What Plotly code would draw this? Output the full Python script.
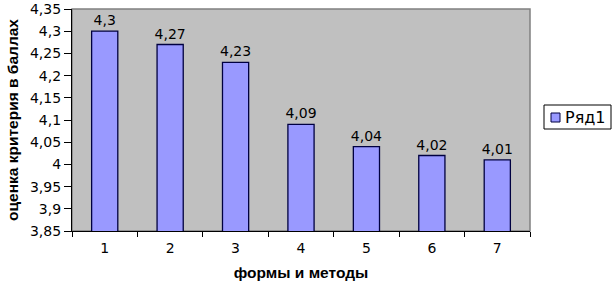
import plotly.graph_objects as go

categories = ["1", "2", "3", "4", "5", "6", "7"]
values = [4.30, 4.27, 4.23, 4.09, 4.04, 4.02, 4.01]
value_labels = ["4,3", "4,27", "4,23", "4,09", "4,04", "4,02", "4,01"]
y_ticks = [3.85, 3.90, 3.95, 4.00, 4.05, 4.10, 4.15, 4.20, 4.25, 4.30, 4.35]
y_tick_labels = ["3,85", "3,9", "3,95", "4", "4,05", "4,1", "4,15", "4,2", "4,25", "4,3", "4,35"]
series_name = "Ряд1"
x_title = "формы и методы"
y_title = "оценка критерия в баллах"

FONT = "DejaVu Sans, Arial, sans-serif"
TITLE_FONT = "Liberation Sans, Arial, sans-serif"
BAR_FILL = "#9999FF"
BAR_LINE = "#000040"

fig = go.Figure()
fig.add_trace(go.Bar(
    x=categories, y=values, name=series_name,
    marker=dict(color=BAR_FILL, line=dict(color=BAR_LINE, width=1.3)),
    text=value_labels, textposition="outside", cliponaxis=False,
    constraintext="none",
    textfont=dict(family=FONT, size=14, color="#000000"),
    showlegend=False,
))

# plot area: x 72..530, y 9..231 (pixels)
TOP, BOTTOM, LEFT, RIGHT = 9, 231, 72, 530

def px_x(p):
    return (p - LEFT) / float(RIGHT - LEFT)

def px_y(p):
    return (BOTTOM - p) / float(BOTTOM - TOP)

fig.update_layout(
    width=612, height=287,
    margin=dict(l=LEFT, r=612 - RIGHT, t=TOP, b=287 - BOTTOM),
    paper_bgcolor="#FFFFFF", plot_bgcolor="#C0C0C0",
    bargap=0.6,
    font=dict(family=FONT, size=14, color="#000000"),
    xaxis=dict(
        type="category", tickson="boundaries", ticks="outside", ticklen=5,
        tickcolor="#000000", showline=True, linecolor="#000000", linewidth=1.3,
        showgrid=False, tickfont=dict(size=14), automargin=False,
        ticklabelstandoff=4,
        title=dict(text="<b>" + x_title + "</b>",
                   font=dict(family=TITLE_FONT, size=15.5), standoff=12),
    ),
    yaxis=dict(
        range=[3.85, 4.35], tickvals=y_ticks, ticktext=y_tick_labels,
        ticks="outside", ticklen=7, tickcolor="#000000",
        showline=True, linecolor="#000000", linewidth=1.3,
        showgrid=False, zeroline=False, tickfont=dict(size=14), automargin=False,
        ticklabeloverflow="allow",
        title=dict(text="<b>" + y_title + "</b>",
                   font=dict(family=TITLE_FONT, size=15.5), standoff=7),
    ),
    shapes=[
        dict(type="rect", xref="paper", yref="paper", x0=0, x1=1, y0=0, y1=1,
             line=dict(color="#808080", width=1.5), layer="below"),
        # legend box
        dict(type="rect", xref="paper", yref="paper",
             x0=px_x(544), x1=px_x(611), y0=px_y(129), y1=px_y(105),
             line=dict(color="#000000", width=1), fillcolor="#FFFFFF"),
        # legend swatch
        dict(type="rect", xref="paper", yref="paper",
             x0=px_x(551), x1=px_x(560), y0=px_y(122), y1=px_y(113),
             line=dict(color=BAR_LINE, width=1), fillcolor=BAR_FILL),
    ],
    annotations=[
        dict(text=series_name, xref="paper", yref="paper",
             x=px_x(563), y=px_y(117.5), xanchor="left", yanchor="middle",
             showarrow=False, font=dict(family=FONT, size=16, color="#000000")),
    ],
)

fig.write_html("out.html", config={"displayModeBar": False},
               post_script="document.body.style.margin='0';document.body.style.overflow='hidden';")
